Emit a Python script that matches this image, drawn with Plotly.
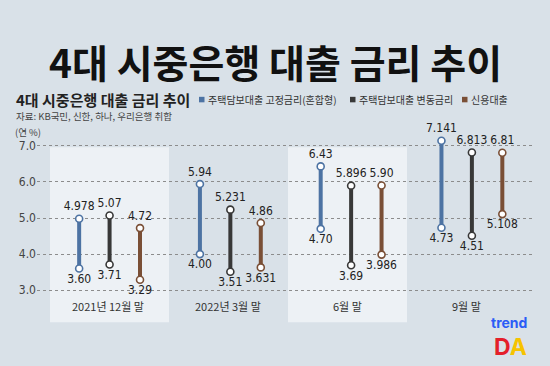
import plotly.graph_objects as go

# ---------------- data ----------------
categories = ["2021년 12월 말", "2022년 3월 말", "6월 말", "9월 말"]
series_names = ["주택담보대출 고정금리(혼합형)", "주택담보대출 변동금리", "신용대출"]
fixed_high = [4.978, 5.94, 6.43, 7.141]
fixed_low = [3.60, 4.00, 4.70, 4.73]
variable_high = [5.07, 5.231, 5.896, 6.813]
variable_low = [3.71, 3.51, 3.69, 4.51]
credit_high = [4.72, 4.86, 5.90, 6.81]
credit_low = [3.29, 3.631, 3.986, 5.108]
y_ticks = [3.0, 4.0, 5.0, 6.0, 7.0]

# ---------------- style ----------------
W, H = 550, 366
L, R, T, B = 37, 533, 134.7, 300.8
BG = "#d9e1e8"
BAND = "#edf1f5"
COLORS = ["#4d73a3", "#383838", "#7a4f36"]
NUM_FONT = "Liberation Sans Narrow, Arial Narrow, DejaVu Sans Condensed, sans-serif"
KR_FONT = "Noto Sans CJK KR, sans-serif"
OFFSET = 0.252


def px(xp):
    return (xp - L) / (R - L)


def py(yp):
    return (B - yp) / (B - T)


def fmt(v):
    return f"{v:.2f}" if abs(round(v, 2) - v) < 1e-9 else f"{v:.3f}"


fig = go.Figure()

series = [(fixed_low, fixed_high), (variable_low, variable_high), (credit_low, credit_high)]
for j, (lows, highs) in enumerate(series):
    xs, ys, texts, pos = [], [], [], []
    for i in range(len(categories)):
        x = i + (j - 1) * OFFSET
        xs += [x, x, None]
        ys += [lows[i], highs[i], None]
        texts += [fmt(lows[i]), fmt(highs[i]), ""]
        pos += ["bottom center", "top center", "top center"]
    fig.add_trace(go.Scatter(
        x=xs, y=ys, mode="lines+markers+text", name=series_names[j],
        line=dict(color=COLORS[j], width=4),
        marker=dict(size=7, color="white", line=dict(color=COLORS[j], width=1.6)),
        text=texts, textposition=pos,
        textfont=dict(family=NUM_FONT, size=12, color="#222222"),
        cliponaxis=False, showlegend=False, connectgaps=False,
    ))

shapes = []
# alternating light bands behind categories 1 and 3
for i in (0, 2):
    c = 109.5 + 119 * i
    shapes.append(dict(type="rect", xref="paper", yref="paper",
                       x0=px(c - 59.5), x1=px(c + 59.5), y0=py(322), y1=py(147),
                       fillcolor=BAND, line=dict(width=0), layer="below"))

annotations = []
# big title
annotations.append(dict(text="<b>4대 시중은행 대출 금리 추이</b>", x=px(275), y=py(60.5), xref="paper", yref="paper",
                        xanchor="center", yanchor="middle", showarrow=False,
                        font=dict(family=KR_FONT, size=39, color="#111111")))
# sub title
annotations.append(dict(text="<b>4대 시중은행 대출 금리 추이</b>", x=px(14), y=py(99), xref="paper", yref="paper",
                        xanchor="left", yanchor="middle", showarrow=False,
                        font=dict(family=KR_FONT, size=15, color="#222222")))
# legend
leg_x = [199, 350, 462]
for j, name in enumerate(series_names):
    shapes.append(dict(type="rect", xref="paper", yref="paper",
                       x0=px(leg_x[j]), x1=px(leg_x[j] + 5.5), y0=py(102), y1=py(96.5),
                       fillcolor=COLORS[j], line=dict(width=0)))
    annotations.append(dict(text=name, x=px(leg_x[j] + 7), y=py(99.5), xref="paper", yref="paper",
                            xanchor="left", yanchor="middle", showarrow=False,
                            font=dict(family=KR_FONT, size=10, color="#333333")))
# source
annotations.append(dict(text="자료: KB국민, 신한, 하나, 우리은행 취합", x=px(14), y=py(115.5), xref="paper", yref="paper",
                        xanchor="left", yanchor="middle", showarrow=False,
                        font=dict(family=KR_FONT, size=9.5, color="#444444")))
# unit
annotations.append(dict(text="(연 %)", x=px(13), y=py(132), xref="paper", yref="paper",
                        xanchor="left", yanchor="middle", showarrow=False,
                        font=dict(family=KR_FONT, size=9.5, color="#444444")))
# category labels
for i, cat in enumerate(categories):
    annotations.append(dict(text=cat, x=px(108 + 119.5 * i), y=py(306), xref="paper", yref="paper",
                            xanchor="center", yanchor="middle", showarrow=False,
                            font=dict(family=KR_FONT, size=11, color="#333333")))
# logo
annotations.append(dict(text="<b>trend</b>", x=px(509), y=py(322.5), xref="paper", yref="paper",
                        xanchor="center", yanchor="middle", showarrow=False,
                        font=dict(family="Inter, sans-serif", size=14, color="#2b5cf6")))
annotations.append(dict(text="<b><span style='color:#e41f2b'>D</span><span style='color:#f6c300'>A</span></b>",
                        x=px(510), y=py(346.5), xref="paper", yref="paper",
                        xanchor="center", yanchor="middle", showarrow=False,
                        font=dict(family="Inter, sans-serif", size=23, color="#e41f2b")))

fig.update_layout(
    width=W, height=H,
    margin=dict(l=L, r=W - R, t=T, b=H - B, pad=0),
    paper_bgcolor=BG, plot_bgcolor="rgba(0,0,0,0)",
    xaxis=dict(range=[-0.601, 3.506], showgrid=False, zeroline=False, showticklabels=False,
               showline=False, fixedrange=True),
    yaxis=dict(range=[2.7, 7.3], tickvals=y_ticks, ticktext=[f"{v:.1f}" for v in y_ticks],
               showgrid=True, gridcolor="#8c8c8c", gridwidth=1, griddash="dot",
               zeroline=False, showline=False, ticks="",
               tickfont=dict(family=NUM_FONT, size=12, color="#444444"), fixedrange=True),
    shapes=shapes, annotations=annotations, showlegend=False,
)

fig.write_html("out.html", config={"displayModeBar": False},
               post_script="document.body.style.margin='0px';document.body.style.background='%s';" % BG)
